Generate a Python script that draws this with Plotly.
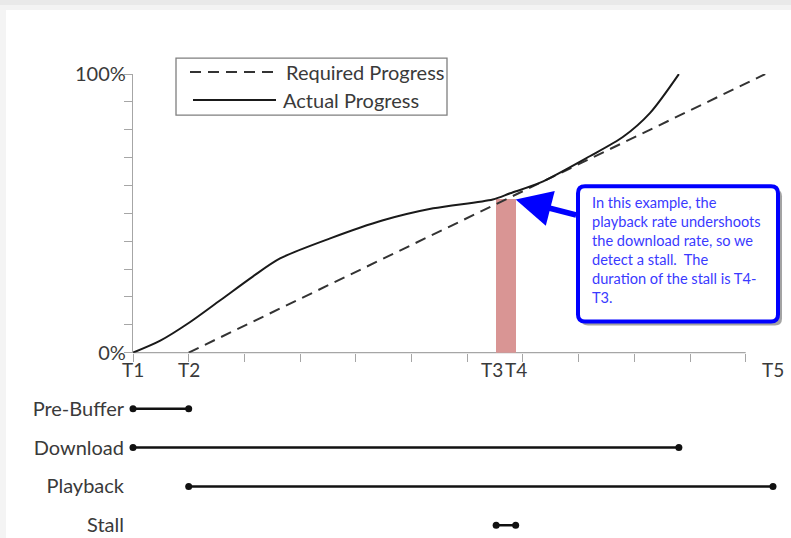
import plotly.graph_objects as go

# ---------------- data ----------------
event_labels = ["T1", "T2", "T3", "T4", "T5"]
event_times = [0.0, 1.0, 6.52, 6.87, 11.49]

required_name = "Required Progress"
required_x = [1.0, 11.35]
required_y = [0, 100]

actual_name = "Actual Progress"
actual_x = [0, 0.49, 1.02, 1.56, 2.15, 2.64, 3.54, 4.49, 5.39, 6.46, 6.77, 7.31, 8.20, 8.80, 9.28, 9.80]
actual_y = [0, 4.3, 10.9, 18.7, 27.3, 33.8, 41.0, 47.5, 51.8, 55.0, 57.2, 61.0, 70.5, 77.5, 86.0, 100]

stall_height = 55

timeline_rows = ["Pre-Buffer", "Download", "Playback", "Stall"]
timeline_start = [0.0, 0.0, 1.0, 6.52]
timeline_end = [1.0, 9.80, 11.49, 6.87]

x_ticks = list(range(0, 12))
y_ticks = list(range(0, 101, 10))
y_tick_text = ["0%"] + [""] * 9 + ["100%"]

callout_lines = [
    "In this example, the",
    "playback rate undershoots",
    "the download rate, so we",
    "detect a stall.  The",
    "duration of the stall is T4-",
    "T3.",
]

# ---------------- geometry helpers ----------------
W, H = 791, 538          # target page size
H_LAYOUT = 550           # rendered height comes out ~12px shorter than requested
ML, MR, MT, MB = 133, 12, 40, 6
PW = W - ML - MR
PH = H - MT - MB
UNIT = 55.7
X_RANGE = [0, PW / UNIT]


def px_x(px):
    return (px - ML) / PW


def px_y(py):
    return (H - MB - py) / PH


def rrect_path(x0, y0, x1, y1, r):
    pts = [
        ("M", [(x0 + r, y0)]),
        ("L", [(x1 - r, y0)]),
        ("Q", [(x1, y0), (x1, y0 + r)]),
        ("L", [(x1, y1 - r)]),
        ("Q", [(x1, y1), (x1 - r, y1)]),
        ("L", [(x0 + r, y1)]),
        ("Q", [(x0, y1), (x0, y1 - r)]),
        ("L", [(x0, y0 + r)]),
        ("Q", [(x0, y0), (x0 + r, y0)]),
    ]
    s = ""
    for cmd, ps in pts:
        s += cmd + " ".join(f"{px_x(a):.5f},{px_y(b):.5f}" for a, b in ps) + " "
    return s + "Z"


FONT = "Lato, Carlito, Calibri, sans-serif"
TXT = "#3a3a3a"
AX_COL = "#a6a6a6"

fig = go.Figure()

# stall bar
T3, T4 = event_times[2], event_times[3]
fig.add_trace(go.Bar(
    x=[(T3 + T4) / 2], y=[stall_height], width=[T4 - T3],
    marker=dict(color="#d99594", line=dict(width=0)),
    xaxis="x", yaxis="y", showlegend=False, hoverinfo="skip",
))

fig.add_trace(go.Scatter(
    x=required_x, y=required_y, mode="lines", name=required_name,
    line=dict(color="#333333", width=2, dash="11px,7px"),
    xaxis="x", yaxis="y", cliponaxis=False, showlegend=False,
))
fig.add_trace(go.Scatter(
    x=actual_x, y=actual_y, mode="lines", name=actual_name,
    line=dict(color="#1a1a1a", width=2, shape="spline", smoothing=0.8),
    xaxis="x", yaxis="y", cliponaxis=False, showlegend=False,
))

for row, s, e in zip(timeline_rows, timeline_start, timeline_end):
    fig.add_trace(go.Scatter(
        x=[s, e], y=[row, row], mode="lines+markers", name=row,
        line=dict(color="#111111", width=2.5),
        marker=dict(color="#111111", size=7),
        xaxis="x", yaxis="y2", cliponaxis=False, showlegend=False,
    ))

shapes = []
# page edge shading
shapes.append(dict(type="rect", xref="paper", yref="paper", layer="below",
                   x0=px_x(0), x1=px_x(W), y0=px_y(0), y1=px_y(5),
                   fillcolor="#e9e9e9", line=dict(width=0)))
shapes.append(dict(type="rect", xref="paper", yref="paper", layer="below",
                   x0=px_x(0), x1=px_x(W), y0=px_y(5), y1=px_y(10),
                   fillcolor="#f3f3f3", line=dict(width=0)))
shapes.append(dict(type="rect", xref="paper", yref="paper", layer="below",
                   x0=px_x(0), x1=px_x(6), y0=px_y(10), y1=px_y(H + 20),
                   fillcolor="#f4f4f4", line=dict(width=0)))
# x axis line
shapes.append(dict(type="line", xref="x", yref="y domain", layer="below",
                   x0=x_ticks[0], x1=x_ticks[-1], y0=0, y1=0,
                   line=dict(color=AX_COL, width=1.3)))
# legend box
shapes.append(dict(type="rect", xref="paper", yref="paper", layer="above",
                   x0=px_x(176), x1=px_x(447), y0=px_y(115), y1=px_y(58),
                   fillcolor="white", line=dict(color="#7f7f7f", width=1.3)))
shapes.append(dict(type="line", xref="paper", yref="paper", layer="above",
                   x0=px_x(190), x1=px_x(274), y0=px_y(72), y1=px_y(72),
                   line=dict(color="#333333", width=2, dash="11px,7px")))
shapes.append(dict(type="line", xref="paper", yref="paper", layer="above",
                   x0=px_x(193), x1=px_x(276), y0=px_y(100), y1=px_y(100),
                   line=dict(color="#1a1a1a", width=2)))
# callout shadow + box
shapes.append(dict(type="path", xref="paper", yref="paper", layer="above",
                   path=rrect_path(581, 189, 782, 325, 7),
                   fillcolor="rgba(50,50,50,0.45)", line=dict(width=0)))
shapes.append(dict(type="path", xref="paper", yref="paper", layer="above",
                   path=rrect_path(578, 186, 778, 321, 7),
                   fillcolor="white", line=dict(color="#0000ff", width=4)))

annotations = []
for lab, t in zip(event_labels, event_times):
    annotations.append(dict(
        x=t, y=0, xref="x", yref="y", yanchor="top", yshift=-3,
        xshift=-4 if lab == "T3" else 0,
        text=lab, showarrow=False, font=dict(family=FONT, size=19, color=TXT)))

annotations.append(dict(
    xref="paper", yref="paper", x=px_x(284), y=px_y(72), xanchor="left", yanchor="middle",
    text=required_name, showarrow=False, font=dict(family=FONT, size=20, color=TXT)))
annotations.append(dict(
    xref="paper", yref="paper", x=px_x(281), y=px_y(100), xanchor="left", yanchor="middle",
    text=actual_name, showarrow=False, font=dict(family=FONT, size=20, color=TXT)))

annotations.append(dict(
    xref="paper", yref="paper", x=px_x(590), y=px_y(192), xanchor="left", yanchor="top",
    align="left", text="<br>".join(callout_lines), showarrow=False,
    font=dict(family=FONT, size=14.6, color="#3a3aff")))

annotations.append(dict(
    x=T4, y=stall_height, xref="x", yref="y", text="", showarrow=True,
    ax=62, ay=16, arrowcolor="#0000ff", arrowwidth=5.5, arrowhead=2, arrowsize=1.3,
    standoff=0))

fig.update_layout(
    width=W, height=H_LAYOUT,
    margin=dict(l=ML, r=MR, t=MT, b=MB),
    paper_bgcolor="white", plot_bgcolor="rgba(0,0,0,0)",
    showlegend=False,
    bargap=0,
    font=dict(family=FONT, color=TXT),
    xaxis=dict(
        range=X_RANGE, anchor="y", tickvals=x_ticks, showticklabels=False,
        ticks="outside", ticklen=8, tickcolor=AX_COL, tickwidth=1.3,
        showline=False, showgrid=False, zeroline=False,
    ),
    yaxis=dict(
        domain=[px_y(352), px_y(74)], range=[0, 100], anchor="x",
        tickvals=y_ticks, ticktext=y_tick_text,
        ticks="outside", ticklen=8, tickcolor=AX_COL, tickwidth=1.3,
        ticklabelstandoff=-6,
        showline=True, linecolor=AX_COL, linewidth=1.3,
        showgrid=False, zeroline=False,
        tickfont=dict(family=FONT, size=20, color=TXT),
    ),
    yaxis2=dict(
        domain=[0, px_y(388.7)], range=[3.2, -0.5], anchor="x",
        type="category", categoryorder="array", categoryarray=timeline_rows,
        ticks="outside", ticklen=6, tickcolor="rgba(0,0,0,0)",
        ticklabelstandoff=-2,
        showline=False, showgrid=False, zeroline=False,
        tickfont=dict(family=FONT, size=20, color=TXT),
    ),
    shapes=shapes,
    annotations=annotations,
)

fig.write_html(
    "out.html",
    config={"displayModeBar": False},
    post_script="document.body.style.margin='0';document.body.style.overflow='hidden';",
)
